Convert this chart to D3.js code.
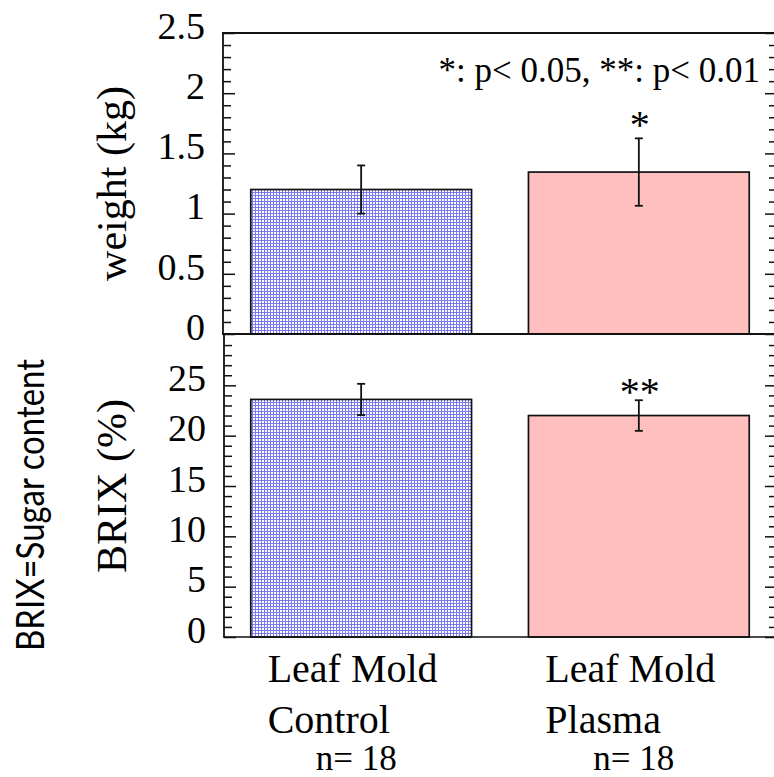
<!DOCTYPE html>
<html>
<head>
<meta charset="utf-8">
<script src="https://cdn.jsdelivr.net/npm/d3@7"></script>
<style>
  html, body { margin: 0; padding: 0; background: #fff; }
  svg { display: block; }
  .serif { font-family: "Liberation Serif", Tinos, "Times New Roman", Times, "DejaVu Serif", serif; }
  .sans { font-family: Lato, "Open Sans", "Noto Sans", sans-serif; }
</style>
</head>
<body>
<svg id="chart" width="774" height="777"></svg>
<script>
// ---------- data ----------
const categories = ["Leaf Mold Control", "Leaf Mold Plasma"];
const labelLine1 = ["Leaf Mold", "Leaf Mold"];
const labelLine2 = ["Control", "Plasma"];
const nLabels = ["n= 18", "n= 18"];

const weightMean = [1.2, 1.345];
const weightErr = [0.2, 0.28];
const weightSig = ["", "*"];
const weightTicks = [0, 0.5, 1, 1.5, 2, 2.5];
const weightMinor = [0.1,0.2,0.3,0.4,0.6,0.7,0.8,0.9,1.1,1.2,1.3,1.4,1.6,1.7,1.8,1.9,2.1,2.2,2.3,2.4];

const brixMean = [23.6, 22.0];
const brixErr = [1.55, 1.52];
const brixSig = ["", "**"];
const brixTicks = [0, 5, 10, 15, 20, 25];
const brixMinor = [1,2,3,4,6,7,8,9,11,12,13,14,16,17,18,19,21,22,23,24,26,27,28,29];

const sigNote = "*: p< 0.05, **: p< 0.01";
const weightTitle = "weight (kg)";
const brixTitle = "BRIX (%)";
const sideNote = "BRIX=Sugar content";

// ---------- layout ----------
const svg = d3.select("#chart");
const left = 223, right = 777;

const x = d3.scaleBand().domain(categories).range([left, right])
  .paddingInner(0.205).paddingOuter(0.1);

const defs = svg.append("defs");
const pat = defs.append("pattern").attr("id", "grid")
  .attr("width", 3).attr("height", 3).attr("patternUnits", "userSpaceOnUse");
pat.append("rect").attr("width", 3).attr("height", 3).attr("fill", "#ffffff");
pat.append("rect").attr("width", 3).attr("height", 1).attr("fill", "#7a7aee");
pat.append("rect").attr("width", 1).attr("height", 3).attr("fill", "#7a7aee");

const fills = ["url(#grid)", "#ffbfbf"];

function panel(cfg) {
  const y = d3.scaleLinear().domain(cfg.domain).range([cfg.bottom, cfg.top]);
  const g = svg.append("g");

  g.selectAll("rect.bar").data(categories).join("rect")
    .attr("class", "bar")
    .attr("x", d => x(d))
    .attr("width", x.bandwidth())
    .attr("y", (d, i) => y(cfg.mean[i]))
    .attr("height", (d, i) => y(0) - y(cfg.mean[i]))
    .attr("fill", (d, i) => fills[i])
    .attr("stroke", "#111").attr("stroke-width", 1.7);

  const eb = g.selectAll("g.err").data(categories).join("g").attr("class", "err");
  const cx = d => x(d) + x.bandwidth() / 2;
  eb.append("line")
    .attr("x1", cx).attr("x2", cx)
    .attr("y1", (d, i) => y(cfg.mean[i] + cfg.err[i]))
    .attr("y2", (d, i) => y(cfg.mean[i] - cfg.err[i]))
    .attr("stroke", "#111").attr("stroke-width", 1.8);
  [1, -1].forEach(s => {
    eb.append("line")
      .attr("x1", d => cx(d) - 4).attr("x2", d => cx(d) + 4)
      .attr("y1", (d, i) => y(cfg.mean[i] + s * cfg.err[i]))
      .attr("y2", (d, i) => y(cfg.mean[i] + s * cfg.err[i]))
      .attr("stroke", "#111").attr("stroke-width", 1.8);
  });

  g.selectAll("text.sig").data(categories).join("text")
    .attr("class", "sig serif")
    .attr("x", d => cx(d) + 1)
    .attr("y", (d, i) => y(cfg.mean[i] + cfg.err[i]) + cfg.sigDy)
    .attr("text-anchor", "middle")
    .style("font-size", "40px")
    .text((d, i) => cfg.sig[i]);

  const ax = g.append("g").attr("transform", `translate(${cfg.axisX},0)`)
    .call(d3.axisLeft(y).tickValues(cfg.ticks).tickSizeInner(-12).tickSizeOuter(0)
      .tickPadding(18).tickFormat(d3.format("")));
  ax.attr("font-family", null).attr("font-size", null);
  ax.select(".domain").remove();
  ax.selectAll("line").attr("stroke", "#111").attr("stroke-width", 1.5);
  ax.selectAll("text").attr("class", "serif").style("font-size", "38px")
    .attr("fill", "#000").attr("dy", "0.14em");

  const axm = g.append("g").attr("transform", `translate(${cfg.axisX},0)`)
    .call(d3.axisLeft(y).tickValues(cfg.minor).tickSizeInner(-8).tickSizeOuter(0).tickFormat(""));
  axm.select(".domain").remove();
  axm.selectAll("line").attr("stroke", "#111").attr("stroke-width", 1.5);

  const ar = g.append("g").attr("transform", `translate(${right},0)`)
    .call(d3.axisRight(y).tickValues(cfg.ticks).tickSizeInner(-12).tickSizeOuter(0).tickFormat(""));
  ar.select(".domain").remove();
  ar.selectAll("line").attr("stroke", "#111").attr("stroke-width", 1.5);
  const arm = g.append("g").attr("transform", `translate(${right},0)`)
    .call(d3.axisRight(y).tickValues(cfg.minor).tickSizeInner(-8).tickSizeOuter(0).tickFormat(""));
  arm.select(".domain").remove();
  arm.selectAll("line").attr("stroke", "#111").attr("stroke-width", 1.5);

  g.append("line").attr("x1", cfg.axisX).attr("x2", cfg.axisX)
    .attr("y1", cfg.top).attr("y2", cfg.bottom)
    .attr("stroke", "#111").attr("stroke-width", 1.8);
  g.append("line").attr("x1", cfg.axisX - 1).attr("x2", right)
    .attr("y1", cfg.bottom).attr("y2", cfg.bottom)
    .attr("stroke", "#111").attr("stroke-width", cfg.bottomWidth);
  if (cfg.topLine) {
    g.append("line").attr("x1", cfg.axisX - 1).attr("x2", right)
      .attr("y1", cfg.top).attr("y2", cfg.top)
      .attr("stroke", "#111").attr("stroke-width", 1.8);
  }

  g.append("text")
    .attr("class", "serif")
    .attr("transform", `translate(${cfg.titleX},${(cfg.top + cfg.bottom) / 2}) rotate(-90)`)
    .attr("text-anchor", "middle")
    .style("font-size", "42px")
    .text(cfg.title);
  return y;
}

panel({ domain: [0, 2.5], top: 33, bottom: 334, axisX: 223, mean: weightMean, err: weightErr,
  sig: weightSig, sigDy: 0, ticks: weightTicks, minor: weightMinor, title: weightTitle,
  titleX: 126, topLine: true, bottomWidth: 2.2 });

panel({ domain: [0, 30], top: 335, bottom: 637, axisX: 224, mean: brixMean, err: brixErr,
  sig: brixSig, sigDy: 5, ticks: brixTicks, minor: brixMinor, title: brixTitle,
  titleX: 126, topLine: false, bottomWidth: 1.5 });

svg.append("text")
  .attr("class", "serif")
  .attr("x", 760).attr("y", 82)
  .attr("text-anchor", "end")
  .style("font-size", "35px")
  .text(sigNote);

svg.append("text")
  .attr("class", "sans")
  .attr("transform", `translate(44,505) rotate(-90)`)
  .attr("text-anchor", "middle")
  .attr("textLength", 292).attr("lengthAdjust", "spacingAndGlyphs")
  .style("font-size", "38px")
  .text(sideNote);

const lab = svg.append("g");
categories.forEach((c, i) => {
  const cx = x(c) + x.bandwidth() / 2;
  lab.append("text").attr("class", "serif").attr("x", cx - 93.5).attr("y", 682)
    .style("font-size", "40px").text(labelLine1[i]);
  lab.append("text").attr("class", "serif").attr("x", cx - 93.5).attr("y", 733)
    .style("font-size", "40px").text(labelLine2[i]);
  lab.append("text").attr("class", "serif").attr("x", cx - 5).attr("y", 770)
    .attr("text-anchor", "middle")
    .style("font-size", "35px").text(nLabels[i]);
});
</script>
</body>
</html>
